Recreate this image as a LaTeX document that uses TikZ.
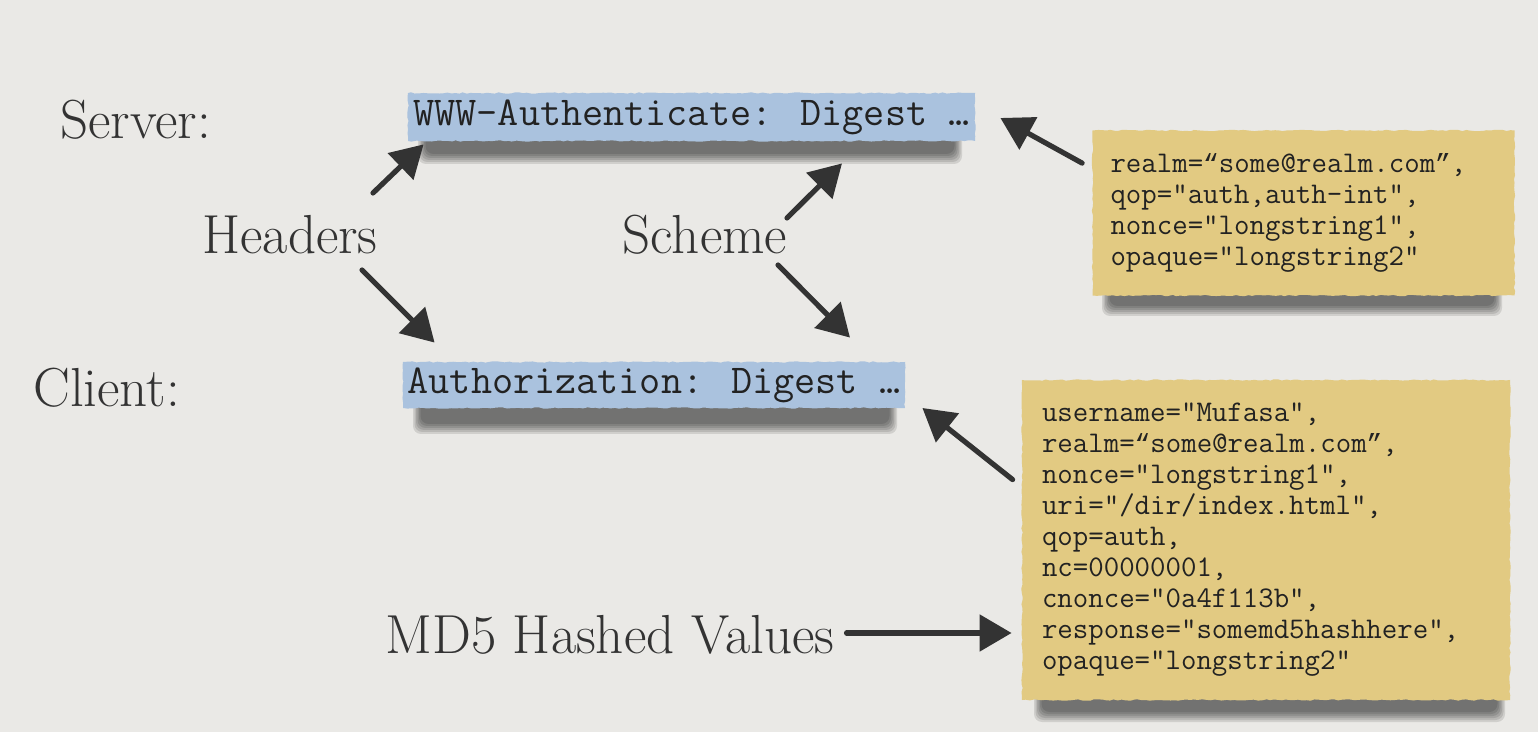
\documentclass[tikz,border=0pt]{standalone}
\usepackage{fontspec}
\newfontfamily\curlyfont{Liberation Mono}
\usetikzlibrary{arrows.meta,calc,decorations.pathmorphing}
\definecolor{paper}{HTML}{EAE9E6}
\definecolor{hdrblue}{HTML}{AAC2DE}
\definecolor{noteyellow}{HTML}{E2CA82}
\definecolor{ink}{HTML}{333333}
\definecolor{monoink}{HTML}{222222}
\newcommand{\cqo}{{\curlyfont\fontsize{13.1}{15.5}\selectfont “}}
\newcommand{\cqc}{{\curlyfont\fontsize{13.1}{15.5}\selectfont ”}}
\tikzset{
  label/.style={inner sep=0pt, text=ink, font=\fontsize{27.5}{33}\selectfont},
  hdrbox/.style={fill=hdrblue, inner sep=0pt, text=monoink,
    font=\ttfamily\fontsize{20.5}{22}\selectfont,
    decorate, decoration={random steps,segment length=2pt,amplitude=0.35pt}},
  notebox/.style={fill=noteyellow, inner ysep=0pt, text=monoink, align=left,
    font=\ttfamily\fontsize{15}{15.5}\selectfont,
    decorate, decoration={random steps,segment length=2pt,amplitude=0.35pt}},
  arr/.style={draw=ink, line width=2.6pt, line cap=round,
    -{Triangle[length=16pt,width=18pt]}},
}
\newcommand{\softshade}[4]{%
  \foreach \i in {0,...,5}{%
    \fill[black,opacity=0.11,rounded corners=4pt] (#1+\i*1.5,#2) rectangle (#3-\i*1.5,#4-\i*2);}}
\begin{document}
\begin{tikzpicture}[x=0.5pt,y=-0.5pt]
\fill[paper] (0,0) rectangle (1538,732);
\useasboundingbox (0,0) rectangle (1538,732);

% shadows
\softshade{418}{130}{962}{164}
\softshade{413}{398}{897}{434}
\softshade{1102}{283}{1502}{316}
\softshade{1034}{688}{1505}{722}

% header boxes
\node[hdrbox, minimum width=283.5pt, minimum height=24pt] (www) at (691.5,117) {WWW-Authenticate: Digest …};
\node[hdrbox, minimum width=251pt, minimum height=23pt] (auth) at (654,385) {Authorization: Digest …};

% notes
\node[notebox, inner xsep=9pt, text width=193pt, minimum height=82.5pt] (y1) at (1303.5,213) {%
realm=\cqo some@realm.com\cqc,\\
qop="auth,auth-int",\\
nonce="longstring1",\\
opaque="longstring2"};
\node[notebox, inner xsep=10pt, text width=224pt, minimum height=160pt] (y2) at (1266,540) {%
username="Mufasa",\\
realm=\cqo some@realm.com\cqc,\\
nonce="longstring1",\\
uri="/dir/index.html",\\
qop=auth,\\
nc=00000001,\\
cnonce="0a4f113b",\\
response="somemd5hashhere",\\
opaque="longstring2"};

% labels
\node[label, anchor=west] (server) at (60,120) {Server:};
\node[label, anchor=west] (client) at (33,388) {Client:};
\node[label] (headers) at (290,235) {Headers};
\node[label] (scheme) at (705,235) {Scheme};
\node[label, anchor=west] (md5) at (385,635) {MD5 Hashed Values};

% arrows
\draw[arr] ($(y1.north west)+(-10,33)$) -- ($(www.east)+(25,1)$);
\draw[arr] ($(headers.center)+(83,-42)$) -- ($(www.south west)+(16,3)$);
\draw[arr] ($(headers.center)+(72,35)$) -- ($(auth.north west)+(32,-19)$);
\draw[arr] ($(scheme.center)+(82,-17)$) -- ($(www.south)+(150.5,22)$);
\draw[arr] ($(scheme.center)+(73,30)$) -- ($(auth.north)+(196,-24)$);
\draw[arr] ($(y2.north west)+(-9,100)$) -- ($(auth.east)+(17,23)$);
\draw[arr] ($(md5.east)+(12,-2)$) -- ($(y2.west)+(-10,93)$);
\end{tikzpicture}
\end{document}
